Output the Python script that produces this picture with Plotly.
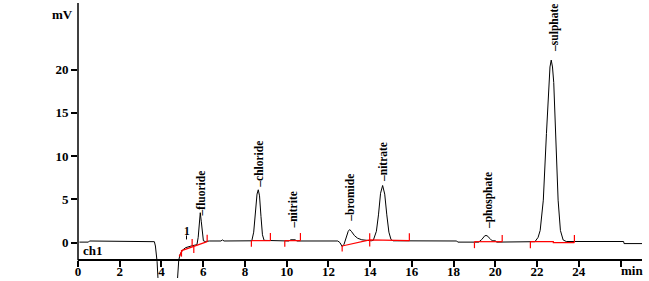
import plotly.graph_objects as go

# chromatogram trace (time in min, signal in mV)
trace_t = [0.07, 0.5, 0.55, 3.6, 3.66, 3.71, 3.75, 3.79, 3.83, 3.87,
           4.72, 4.76, 4.83, 4.9, 5.0, 5.15, 5.3, 5.45, 5.6, 5.7,
           5.76, 5.81, 5.86, 5.91, 5.96, 6.01, 6.1, 6.3, 6.85, 6.92, 7.0,
           8.33, 8.42, 8.5, 8.58, 8.64, 8.7, 8.77, 8.84, 8.92,
           10.1, 10.2, 10.4, 10.5,
           12.45, 12.55, 12.66, 12.75, 12.85, 12.95, 13.02, 13.1, 13.25, 13.4, 13.6, 13.8, 14.05,
           14.15, 14.3, 14.4, 14.5, 14.6, 14.7, 14.8, 14.9, 15.0, 15.1,
           18.15, 18.2, 19.2, 19.35, 19.5, 19.6, 19.75, 19.85, 20.0, 20.07,
           21.9, 22.05, 22.15, 22.3, 22.45, 22.56, 22.62, 22.68, 22.74, 22.8, 22.9, 23.01, 23.12, 23.25, 23.4,
           26.15, 26.17, 27.03]
trace_mv = [0.05, 0.05, 0.18, 0.18, 0.1, -0.4, -1.2, -2.2, -4.0, -6.0,
            -6.0, -4.0, -2.0, -1.35, -0.9, -0.6, -0.45, -0.38, -0.3, -0.25,
            0.6, 2.4, 3.45, 2.4, 0.8, 0.2, 0.12, 0.18, 0.18, 0.3, 0.18,
            0.2, 1.2, 3.6, 5.6, 6.1, 5.4, 3.0, 0.9, 0.25,
            0.18, 0.32, 0.32, 0.18,
            0.18, 0.0, -0.45, -0.2, 0.6, 1.3, 1.5, 1.3, 0.8, 0.5, 0.32, 0.25, 0.2,
            0.25, 1.3, 3.2, 5.7, 6.6, 5.6, 3.2, 1.2, 0.35, 0.2,
            0.18, 0.05, 0.05, 0.35, 0.8, 0.8, 0.45, 0.2, 0.2, 0.05,
            0.1, 0.6, 1.4, 4.9, 12.6, 18.5, 20.3, 21.1, 20.3, 18.5, 12.6, 4.9, 1.4, 0.3, 0.12,
            0.12, -0.12, -0.12]

# integration baselines and markers (red)
base_t = [4.85, 4.92, 5.0, 5.55, 6.19, None,
          4.96, 4.96, None, 5.47, 5.47, None, 5.55, 5.55, None, 6.19, 6.19, None,
          8.31, 9.22, None, 8.31, 8.31, None, 9.22, 9.22, None,
          9.91, 10.66, None, 9.91, 9.91, None, 10.66, 10.66, None,
          12.66, 13.98, 15.88, None, 12.66, 12.66, None, 13.98, 13.98, None, 15.88, 15.88, None,
          19.0, 20.33, None, 19.0, 19.0, None, 20.33, 20.33, None,
          21.68, 22.78, 22.78, 23.79, None, 21.68, 21.68, None, 23.79, 23.79]
base_mv = [-1.6, -1.2, -0.9, -0.45, 0.1, None,
           -0.86, -1.63, None, -0.5, 0.4, None, -0.45, -1.2, None, 0.1, 0.9, None,
           0.22, 0.22, None, 0.22, -0.48, None, 0.22, 1.1, None,
           0.22, 0.22, None, 0.22, -0.5, None, 0.22, 1.1, None,
           -0.4, 0.3, 0.22, None, -0.4, -1.05, None, 1.07, -0.47, None, 0.22, 1.07, None,
           0.1, 0.1, None, 0.1, -0.65, None, 0.1, 0.88, None,
           0.1, 0.1, 0.0, 0.0, None, 0.1, -0.65, None, 0.0, 0.88]

# peak labels
peak_names = ["fluoride", "chloride", "nitrite", "bromide", "nitrate", "phosphate", "sulphate"]
peak_t = [5.87, 8.66, 10.26, 13.06, 14.65, 19.68, 22.8]
label_mv = [2.96, 6.25, 1.45, 2.23, 6.85, 1.46, 21.9]

x_ticks = [0, 2, 4, 6, 8, 10, 12, 14, 16, 18, 20, 22, 24, 26]
x_ticktext = ["0", "2", "4", "6", "8", "10", "12", "14", "16", "18", "20", "22", "24", ""]
y_ticks = [0, 5, 10, 15, 20]

FONT = dict(family="Liberation Serif", size=13, color="black", weight="bold")
LFONT = dict(family="Liberation Serif", size=11.5, color="black", weight="bold")

fig = go.Figure()
fig.add_trace(go.Scatter(x=trace_t, y=trace_mv, mode="lines",
                         line=dict(color="black", width=1), hoverinfo="skip"))
fig.add_trace(go.Scatter(x=base_t, y=base_mv, mode="lines", connectgaps=False,
                         line=dict(color="#ff0000", width=1.2), hoverinfo="skip"))

for name, t, y in zip(peak_names, peak_t, label_mv):
    fig.add_annotation(x=t, y=y, xref="x", yref="y", text="\u2013" + name,
                       textangle=-90, xanchor="center", yanchor="bottom",
                       showarrow=False, font=LFONT, borderpad=0)

# small "1" peak label
fig.add_annotation(x=5.2, y=1.28, xref="x", yref="y", text="1", showarrow=False,
                   font=LFONT, xanchor="center", yanchor="middle", borderpad=0)
fig.add_shape(type="line", xref="x", yref="y", x0=5.2, x1=5.2, y0=0.36, y1=0.82,
              line=dict(color="black", width=1))

fig.add_annotation(x=0.12, y=-0.94, xref="x", yref="y", text="ch1", showarrow=False,
                   font=FONT, xanchor="left", yanchor="middle")
fig.add_annotation(x=-0.0275, y=26.4, xref="paper", yref="y", text="mV", showarrow=False,
                   font=FONT, xanchor="center", yanchor="middle")
fig.add_annotation(x=0.9823, y=0.029, xref="paper", yref="paper", text="min", showarrow=False,
                   font=FONT, xanchor="center", yanchor="middle")

# y axis line
fig.add_shape(type="line", xref="paper", yref="y", x0=0, x1=0, y0=-2.05, y1=27.7,
              line=dict(color="black", width=1.5))

fig.update_layout(
    width=649, height=281,
    margin=dict(l=77.5, r=7.3, t=3, b=3, autoexpand=False),
    paper_bgcolor="white", plot_bgcolor="white",
    showlegend=False,
    xaxis=dict(range=[0, 27.03], anchor="free", position=0.0645, automargin=False,
               showline=True, linecolor="black", linewidth=1.5,
               ticks="outside", ticklen=6, tickwidth=1.5, tickcolor="black",
               tickvals=x_ticks, ticktext=x_ticktext, tickfont=FONT,
               ticklabelstandoff=-7,
               showgrid=False, zeroline=False),
    yaxis=dict(range=[-4.1, 27.7], showline=False, automargin=False,
               ticks="outside", ticklen=6, tickwidth=1.5, tickcolor="black",
               tickvals=y_ticks, tickfont=FONT,
               showgrid=False, zeroline=False),
)

fig.write_html("out.html")
